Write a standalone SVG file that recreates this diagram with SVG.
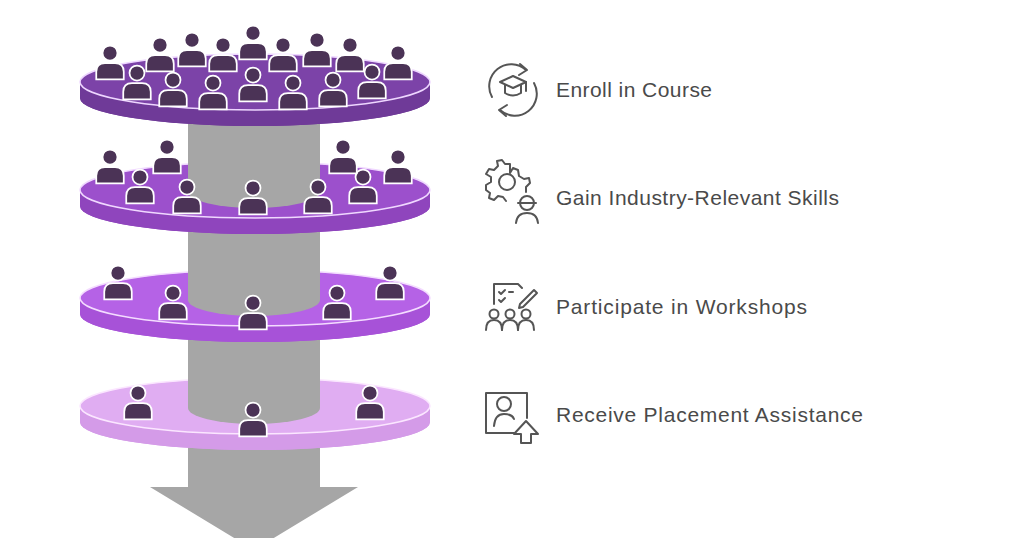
<svg xmlns="http://www.w3.org/2000/svg" xmlns:xlink="http://www.w3.org/1999/xlink" width="1024" height="538" viewBox="0 0 1024 538">
<style>
.lbl{font-family:"Liberation Sans",Arial,sans-serif;font-size:21px;fill:#4a4a4a}
.ic{fill:none;stroke:#555;stroke-width:2;stroke-linecap:round;stroke-linejoin:round}
.gray{fill:#a6a6a6}
.p{fill:#4b3356;stroke:#fff;stroke-width:1.4}
</style>
<defs>
<g id="person" transform="scale(1.25)"><path class="p" d="M-11,21 L-11,15 Q-11,8 -4,8 L4,8 Q11,8 11,15 L11,21 Z"/><circle class="p" cx="0" cy="0" r="6"/></g>
</defs>
<rect width="1024" height="538" fill="#fff"/>
<g id="arrow"><path class="gray" d="M188,440 H320 V487 H358 L254,550 L150,487 H188 Z"/></g>

<g id="disc4">
<path d="M80,406 V422 A175,28 0 0 0 430,422 V406 Z" fill="#d49be8"/>
<ellipse cx="255" cy="422" rx="175" ry="28" fill="#d49be8"/>
<ellipse cx="255" cy="406" rx="175" ry="28" fill="#e0adf2" stroke="#fbe6ff" stroke-width="1.5"/>
</g>
<g id="shaft34"><path class="gray" d="M188,330 V408 A66,16 0 0 0 320,408 V330 Z"/></g>
<g id="people4"><use xlink:href="#person" x="138" y="393"/><use xlink:href="#person" x="253" y="410"/><use xlink:href="#person" x="370" y="393"/></g>

<g id="disc3">
<path d="M80,298 V314 A175,28 0 0 0 430,314 V298 Z" fill="#a752d8"/>
<ellipse cx="255" cy="314" rx="175" ry="28" fill="#a752d8"/>
<ellipse cx="255" cy="298" rx="175" ry="28" fill="#b562e6" stroke="#f4dcff" stroke-width="1.5"/>
</g>
<g id="shaft23"><path class="gray" d="M188,222 V300 A66,16 0 0 0 320,300 V222 Z"/></g>
<g id="people3"><use xlink:href="#person" x="118" y="273"/><use xlink:href="#person" x="173" y="293"/><use xlink:href="#person" x="253" y="303"/><use xlink:href="#person" x="337" y="293"/><use xlink:href="#person" x="390" y="273"/></g>

<g id="disc2">
<path d="M80,190 V206 A175,28 0 0 0 430,206 V190 Z" fill="#8f45bd"/>
<ellipse cx="255" cy="206" rx="175" ry="28" fill="#8f45bd"/>
<ellipse cx="255" cy="190" rx="175" ry="28" fill="#9c50cc" stroke="#f0d8ff" stroke-width="1.5"/>
</g>
<g id="shaft12"><path class="gray" d="M188,114 V192 A66,16 0 0 0 320,192 V114 Z"/></g>
<g id="people2"><use xlink:href="#person" x="110" y="157"/><use xlink:href="#person" x="167" y="147"/><use xlink:href="#person" x="140" y="177"/><use xlink:href="#person" x="187" y="187"/><use xlink:href="#person" x="253" y="188"/><use xlink:href="#person" x="318" y="187"/><use xlink:href="#person" x="363" y="177"/><use xlink:href="#person" x="343" y="147"/><use xlink:href="#person" x="398" y="157"/></g>

<g id="disc1">
<path d="M80,82 V98 A175,28 0 0 0 430,98 V82 Z" fill="#6f3a98"/>
<ellipse cx="255" cy="98" rx="175" ry="28" fill="#6f3a98"/>
<ellipse cx="255" cy="82" rx="175" ry="28" fill="#7c43a8" stroke="#eed6ff" stroke-width="1.5"/>
</g>
<g id="people1">
<use xlink:href="#person" x="110" y="53"/><use xlink:href="#person" x="160" y="45"/><use xlink:href="#person" x="192" y="40"/><use xlink:href="#person" x="223" y="45"/><use xlink:href="#person" x="253" y="33"/><use xlink:href="#person" x="283" y="45"/><use xlink:href="#person" x="317" y="40"/><use xlink:href="#person" x="350" y="45"/><use xlink:href="#person" x="398" y="53"/>
<use xlink:href="#person" x="137" y="73"/><use xlink:href="#person" x="173" y="80"/><use xlink:href="#person" x="213" y="83"/><use xlink:href="#person" x="253" y="75"/><use xlink:href="#person" x="293" y="83"/><use xlink:href="#person" x="333" y="80"/><use xlink:href="#person" x="372" y="72"/>
</g>

<g id="step1">
<g class="ic"><path d="M492,97 A22,22 0 0 1 526,70"/><path d="M520,64 L527,70 L519,75"/><path d="M534,83 A22,22 0 0 1 500,110"/><path d="M506,116 L499,110 L507,105"/><path d="M500,82 L513,76 L526,82 L513,88 Z"/><path d="M505,85 V93 Q513,98 521,93 V85"/><path d="M526,82 V91"/></g>
<text class="lbl" x="556" y="97" textLength="156">Enroll in Course</text></g>
<g id="step2">
<g class="ic"><path d="M510,173 L513,168 L518,170 L519,176 L524,179 L529,178 L530,183 L526,187 L526,192 M486,190 L490,193 L489,198 L494,200 L498,196 L503,197 L506,201 M486,190 L486,185 L491,182 L491,177 L486,174 L489,169 L494,170 L498,166 L497,161 L502,160 L505,164 L510,164 L510,173"/><circle cx="507" cy="182" r="8"/><circle cx="527" cy="203" r="7"/><path d="M518,203 H536"/><path d="M516,223 Q517,213 527,213 Q537,213 538,223"/></g>
<text class="lbl" x="556" y="205" textLength="283">Gain Industry-Relevant Skills</text></g>
<g id="step3">
<g class="ic"><path d="M494,304 V284 H518 L522,288"/><path d="M499,292 l2,2 l4,-4"/><path d="M499,300 l2,2 l4,-4"/><path d="M509,292 h4"/><path d="M520,304 L534,290 L537,293 L523,307 L519,308 Z"/><circle cx="494" cy="314" r="4.5"/><circle cx="510" cy="314" r="4.5"/><circle cx="526" cy="314" r="4.5"/><path d="M486,330 Q486,320 494,320 Q502,320 502,330"/><path d="M502,330 Q502,320 510,320 Q518,320 518,330"/><path d="M518,330 Q518,320 526,320 Q534,320 534,330"/></g>
<text class="lbl" x="556" y="314" textLength="251">Participate in Workshops</text></g>
<g id="step4">
<g class="ic"><path d="M514,433 H486 V393 H527 V418"/><circle cx="504" cy="404" r="7"/><path d="M494,426 Q495,414 504,414 Q512,414 514,419"/><path d="M521,443 V434 H514 L526,421 L538,434 H531 V443 Z"/></g>
<text class="lbl" x="556" y="422" textLength="307">Receive Placement Assistance</text></g>
</svg>
